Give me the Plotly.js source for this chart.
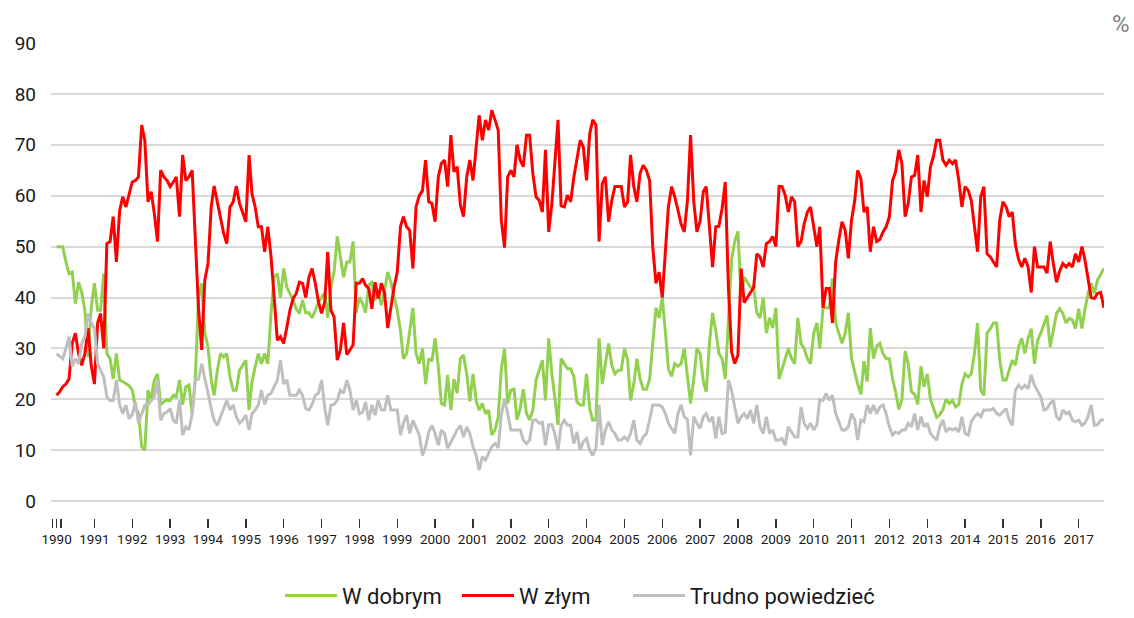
<!DOCTYPE html>
<html>
<head>
<meta charset="utf-8">
<script src="https://cdn.plot.ly/plotly-3.0.1.min.js"></script>
<style>
html,body{margin:0;padding:0;background:#fff;}
#chart{width:1134px;height:618px;}
</style>
</head>
<body>
<div id="chart"></div>
<script>
// Monthly survey values, Jan 1990 - Sep 2017 (one row per year)
const wDobrym = [
50,50,50,47,44.7,45,38.8,43,41,37.5,28.3,38,
42.8,37.5,37.5,44.7,29,28,24,29,23.8,23.5,23,22.7,
21.8,18.5,17.2,10.7,10,21.8,20,23.8,25,19,19.5,20,
19.8,20.8,20.5,23.8,19,22.5,22.8,17.2,24.4,40,42.8,33,
30.3,23.8,20.8,25.7,29,28.3,29,24.4,21.8,21.8,25.7,26.7,
27.7,17.9,23.4,26.4,29,27,29,27,36.9,44,44.7,40,
45.7,42,40.8,39.5,37.8,36.9,39.5,37,37,36,37.5,39,
40,41,36,42,45,52,48,44,47,47,51,37,
40,38.8,37,42.5,43,39.5,41,38.5,41.5,45,43,40,
37.5,33.5,28,29,34,38,29,27,30,23,28,27.5,
32,26.4,19.2,18.9,24.8,17.9,24,21.2,28,28.7,25,19.6,
25,19.6,17.9,19.2,17.2,17.9,13,14,16.5,26,30,19.2,
21.8,22,16,18.2,22,17.2,16,17.9,23.8,25.7,27.7,19.8,
32,25,19.6,15,28,27,26,26,24.5,19.5,18.9,18.9,
25,18.2,15.9,16,32,23,27,31,26.7,25,25.7,25.7,
30,27.7,19.8,23,28,24,22,22,24,31,38,36,
40,33,26,24.5,27,26.5,27,30,25,19.2,24,30,
29,23.5,21.5,31,37,33.5,29,28,24,36,47.5,51,
53,40,44,43,42,42,37,36,40,33,36,34,
38,24,26,28,30,28,27,36,31,30,28,27,
33,35,30,38,38,38,43.7,35,33,31,33,37,
28,25,23,21,27.5,23.5,34,28,30.5,31,29,28,
28,24,21.5,18,20,29.5,27,21.5,21,19,26.5,22.5,
25,20,18.5,16.5,17,18,20,19.2,19.8,18.5,19,23,
25,24.4,25,29,35,21.8,20.8,33,33.9,35,35,27.7,
23.8,23.8,25.7,27.7,26.7,30.3,32,29,32,33.9,27,31.6,
33,35,36.5,30.3,33.6,36.9,37.8,36.9,35,35.9,35.6,33.9,
37.8,33.9,37.5,40.8,42.8,40.8,43.4,44.5,45.7
];
const wZlym = [
20.8,21.5,22.5,23,24,31,33,29,26.7,29,34,26.7,
23,35,36.9,30,50.6,51,55.9,47,57,59.8,57.8,60.4,
62.7,63,63.7,73.9,70.9,58.8,60.8,56.5,51,65,63.7,63,
61.8,62.7,63.7,55.9,68,63,63.7,65,52,38,29.7,43.4,
46.7,57.8,61.9,59,55.9,52.6,50.6,57.8,58.8,61.9,58.5,56.5,
54.9,68,60.4,57.8,53.9,53.9,49,53.9,48,40.1,31.6,32.3,
31,34.2,37.5,39.8,40.8,43,42.8,40,44,45.7,42.8,39.2,
36.9,39.2,49,37.5,36.2,27.7,29.7,35,28.8,29.7,30.7,42.8,
42.8,43.7,42.4,41.8,37.8,43,39.8,42.8,40.8,34,38.3,42,
45,53.9,55.9,53.9,53.2,45.7,57.8,60,61,67,58.8,58.5,
54.9,63.7,66.3,67,61.8,71.9,64.7,65.7,58.2,55.9,63.7,67,
63,70.6,75.8,70.9,74.9,72.9,76.8,74.9,72.9,55.2,49.8,63.7,
65,63.7,70,67,65.7,71.9,71.9,64.4,59.8,59.1,56.8,69,
52.9,58.5,66.3,74.9,58,57.8,60.1,58.8,63.7,67,70.9,69.6,
63,72.2,74.9,73.9,51,62.4,63.7,54.9,59.1,61.8,61.8,61.8,
57.8,58.8,68,61.8,58.8,64.4,66,65,63,50,42.8,45,
40,50,57.8,61.8,59.8,57.2,54.5,52.9,59.1,71.9,58.8,52.9,
55,60.8,61.8,53.9,46,53.9,54,57.5,62.7,42,29.3,27,
28.7,45.7,39,40,41,42,48.6,48,46,50.6,51,52,
50,61.8,61.8,60.1,56.8,59.8,58.8,50,51,54.5,56.8,57.8,
53.9,50,53.9,38,41.8,41.8,35,47,51.4,54.9,53.2,47.7,
55.2,59.1,65,63.4,56.8,57.8,49,53.9,51,51.4,52.9,53.9,
55.9,63,64.7,69,66.3,55.9,58.5,63.7,64,68,56.8,63,
59.8,65.7,67.7,70.9,70.9,67,66,67,66.3,67,63,57.8,
61.8,61,59.1,54.5,49,59.8,61.8,48.6,48,47,46,55.2,
58.8,57.8,55.9,56.8,50.4,47.5,46,47.7,46,41,50,46,
46,46,44.8,51,46.7,43,45.2,46.7,46,46.7,46,48.6,
47,50,47.5,43.4,40,39.8,40.8,41,38
];
const trudnoPowiedziec = [
29,28.5,28,30,32.3,26.4,28,27,31,32.3,36.9,35,
34,27,25.7,24.4,20.5,19.8,19.8,23.8,19,17.2,18.9,16.2,
17,19.5,15.3,17,18.9,19,19.8,20.5,23.8,15.9,17.2,17.5,
18.2,15.9,15.3,19.8,13,14.6,14,17.2,23.8,24,27,23.8,
21.2,18.2,15.9,14.9,16.5,18.5,19.8,17.9,18.9,16.6,15.3,15.9,
16.9,14,17.2,17.9,18.9,21.8,19,20.8,21.2,22.5,23.8,27.7,
23,23.8,20.8,20.8,20.8,21.8,20.8,18.2,17.9,19,20.8,21.2,
23.8,18.2,14.9,18.9,19,19.8,21.8,21.2,23.8,21.8,17.9,19.8,
17.2,17.5,19.5,15.9,18.9,16.9,19.8,17.9,17.9,20.8,17.9,17.9,
17.9,13,15.3,16.9,13.3,15.9,14.6,13,9,10.7,13.6,14.9,
13.3,11,14,13.3,10.4,11.7,13,14,14.9,12.6,14.6,13.3,
10.7,9,6.1,8.7,8.1,9.4,10.7,11.3,10.5,17,20,17.2,
14,14,14,14,12,11.3,12,15.9,16,15.3,15.5,11,
15,15,13.3,10,14.9,15.9,14.9,14.9,11.3,13.6,10,11.7,
12.3,10,9,10.4,18.9,11,14,15.6,14,13.3,12,12,
12.6,12,13.3,15.9,12,11.3,12.6,13.3,16,18.9,18.9,18.9,
18.5,17.2,15.3,14.3,13.3,17.2,18.9,16.6,16,9,16.6,15.3,
14.3,16.6,17.2,15.6,16.6,12.3,16.6,13.3,13.5,23.8,21.8,18.5,
15.3,16.6,17.2,16.2,17.9,15.3,18.9,14.6,13.3,16.6,13.3,14,
12,12,12.3,11,14.6,13.6,12.6,12.6,18.5,15.3,14.3,15.3,
14,15,20,19.8,21.2,19.8,20.8,17.2,15.6,14,14,14.6,
17.2,16,12,15.9,15.6,18.9,17.2,18.9,17.2,18.5,18.9,17.2,
14.6,13,13.6,13.3,14,14,15.3,14.6,17.2,14,16.6,14.6,
15.3,13.3,12.6,12,14.6,15.9,13.6,14.3,14,14.3,13.6,16.6,
13.3,13,15.6,16.6,17.2,16.6,17.9,17.9,17.9,18.2,17.2,16.9,
17.5,18.2,16,14.9,21.8,22.8,22.1,22.8,22.1,24.8,22.8,21.5,
20.5,17.9,18.2,19.2,19.8,16.6,15.9,17.9,17.2,17.5,15.9,15.6,
15.9,14.9,15.3,16.6,18.9,14.9,15,15.9,16
];
const years = [1990,1991,1992,1993,1994,1995,1996,1997,1998,1999,2000,2001,2002,2003,
  2004,2005,2006,2007,2008,2009,2010,2011,2012,2013,2014,2015,2016,2017];
const seriesNames = ['W dobrym','W złym','Trudno powiedzieć'];

// month dates (categories)
const months = [];
for (let i = 0; i < wZlym.length; i++) {
  const y = years[0] + Math.floor(i / 12);
  const m = (i % 12) + 1;
  months.push(y + '-' + String(m).padStart(2, '0') + '-01');
}
const tickVals = ['1989-11-21', '1990-02-11'];
const tickText = ['', ''];
years.forEach(y => { tickVals.push(y + '-01-01'); tickText.push(String(y)); });

const mk = (ys, name, color, lg) => ({
  x: months, y: ys, name: name, type: 'scatter', mode: 'lines',
  line: {color: color, width: 3}, hoverinfo: 'x+y', legend: lg
});
const data = [
  mk(wDobrym, seriesNames[0], '#92D050', 'legend'),
  mk(wZlym, seriesNames[1], '#FF0000', 'legend2'),
  mk(trudnoPowiedziec, seriesNames[2], '#BFBFBF', 'legend3')
];

const legendBase = (xpos) => ({
  orientation: 'h', xref: 'container', yref: 'container',
  x: xpos, xanchor: 'left', y: 0.002, yanchor: 'bottom',
  font: {size: 22, color: '#1a1a1a'}, itemwidth: 52,
  bgcolor: 'rgba(0,0,0,0)'
});

const layout = {
  width: 1134, height: 618,
  margin: {l: 51, r: 30, t: 43, b: 100, pad: 0, autoexpand: false},
  paper_bgcolor: '#fff', plot_bgcolor: '#fff',
  font: {family: 'Roboto, Arial, sans-serif', color: '#1a1a1a'},
  showlegend: true,
  legend: legendBase(0.247),
  legend2: legendBase(0.403),
  legend3: legendBase(0.5538),
  xaxis: {
    type: 'date', range: ['1989-11-08', '2017-09-02'],
    tickmode: 'array', tickvals: tickVals, ticktext: tickText,
    showgrid: false, zeroline: false, showline: false,
    ticks: 'outside', ticklen: 9, tickwidth: 1.5, tickcolor: '#333',
    tickfont: {size: 13.5, color: '#1a1a1a'}, ticklabelstandoff: 0
  },
  yaxis: {
    range: [-3.3, 90], tickmode: 'array',
    tickvals: [0,10,20,30,40,50,60,70,80,90],
    showgrid: true, gridcolor: '#D9D9D9', gridwidth: 2,
    zeroline: false, showline: false, ticks: '',
    tickfont: {size: 19, color: '#1a1a1a'}, ticklabelstandoff: 14
  },
  annotations: [{
    text: '%', xref: 'paper', yref: 'paper', x: 1.016, y: 1.04,
    xanchor: 'center', yanchor: 'middle', showarrow: false,
    font: {size: 24, color: '#808080'}
  }]
};
Plotly.newPlot('chart', data, layout, {displayModeBar: false, staticPlot: true});
</script>
</body>
</html>
